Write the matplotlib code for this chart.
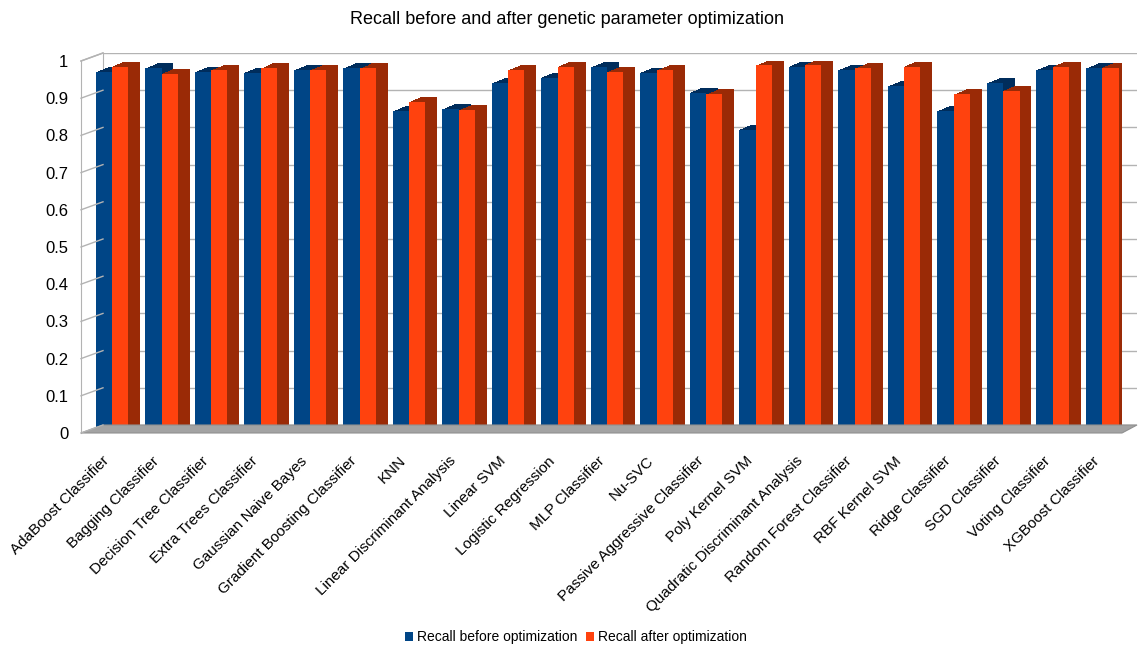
import numpy as np
import matplotlib
matplotlib.use("Agg")
from matplotlib import pyplot as plt
from matplotlib import patheffects as pe
from matplotlib.lines import Line2D
from matplotlib.patches import Polygon, Patch

# datos
modelos = ["AdaBoost Classifier", "Bagging Classifier", "Decision Tree Classifier",
           "Extra Trees Classifier", "Gaussian Naive Bayes", "Gradient Boosting Classifier",
           "KNN", "Linear Discriminant Analysis", "Linear SVM", "Logistic Regression",
           "MLP Classifier", "Nu-SVC", "Passive Aggressive Classifier", "Poly Kernel SVM",
           "Quadratic Discriminant Analysis", "Random Forest Classifier", "RBF Kernel SVM",
           "Ridge Classifier", "SGD Classifier", "Voting Classifier", "XGBoost Classifier"]
recall_antes = [0.970, 0.980, 0.970, 0.968, 0.975, 0.980, 0.865, 0.870, 0.940, 0.955,
                0.983, 0.968, 0.915, 0.815, 0.985, 0.975, 0.932, 0.865, 0.940, 0.975, 0.980]
recall_despues = [0.985, 0.965, 0.975, 0.980, 0.975, 0.980, 0.890, 0.868, 0.975, 0.985,
                  0.970, 0.975, 0.910, 0.988, 0.990, 0.980, 0.985, 0.910, 0.920, 0.985, 0.982]
ticks_y = np.round(np.arange(0, 1.01, 0.1), 1)

W, H = 1138, 647
plt.rcParams['font.family'] = ['Liberation Sans', 'DejaVu Sans']
fig = plt.figure(figsize=(W / 100, H / 100), dpi=100)

azul, azul_osc = "#004586", "#002d5c"
naranja, naranja_osc = "#ff420e", "#9a2a06"
gris = "#b3b3b3"

# pared del fondo
ax_back = fig.add_axes([103 / W, (H - 425) / H, (1137 - 103) / W, 372 / H])
ax_back.set_ylim(0, 1)
ax_back.set_yticks(ticks_y)
ax_back.set_xticks([])
ax_back.tick_params(left=False, labelleft=False)
ax_back.grid(axis="y", color=gris, lw=1)
for s in ["top", "right", "bottom"]:
    ax_back.spines[s].set_visible(False)
ax_back.spines["left"].set_color(gris)

# plano frontal
ax = fig.add_axes([81 / W, (H - 433) / H, 1041 / W, 372 / H])
ax.patch.set_alpha(0)
x = np.arange(len(modelos))
ax.set_xlim(-0.626, 20.40)
ax.set_ylim(0, 1)
for s in ["top", "right", "bottom"]:
    ax.spines[s].set_visible(False)
ax.spines["left"].set_color(gris)

# piso gris
fig.canvas.draw()
f0 = ax.transAxes.transform((0, 0))
f1 = ax.transAxes.transform((1, 0))
b0 = ax_back.transAxes.transform((0, 0))
b1 = ax_back.transAxes.transform((1, 0))
piso = Polygon([f0, f1, b1, b0], closed=True, transform=None, facecolor="#a3a3a3",
               edgecolor="#909090", lw=0.8, zorder=1)
fig.add_artist(piso)

# diagonales de la pared izquierda
for v in ticks_y:
    p = ax.transData.transform((ax.get_xlim()[0], v))
    q = ax_back.transData.transform((ax_back.get_xlim()[0], v))
    fig.add_artist(Line2D([p[0], q[0]], [p[1], q[1]], transform=None, color=gris, lw=1, zorder=1))
p = ax.transAxes.transform((0, 1))
q = ax_back.transAxes.transform((0, 1))
fig.add_artist(Line2D([p[0], q[0]], [p[1], q[1]], transform=None, color=gris, lw=1, zorder=1))


def extrusion(color, dx=8.6, dy=3.6, n=12):
    efs = [pe.SimplePatchShadow(offset=(dx * k / n, dy * k / n), shadow_rgbFace=color, alpha=1.0)
           for k in range(n, 0, -1)]
    return efs + [pe.Normal()]


w = 0.33
b1_ = ax.bar(x - w / 2, recall_antes, w, color=azul, zorder=3)
b2_ = ax.bar(x + w / 2, recall_despues, w, color=naranja, zorder=4)
for r in b1_:
    r.set_path_effects(extrusion(azul_osc))
for r in b2_:
    r.set_path_effects(extrusion(naranja_osc))

ax.set_yticks(ticks_y)
ax.set_yticklabels([("%g" % v) for v in ticks_y], fontsize=12)
ax.tick_params(axis="y", length=0, pad=9)
ax.set_xticks(x - 0.2)
ax.set_xticklabels(modelos, rotation=45, ha="right", va="top", rotation_mode="anchor", fontsize=11)
ax.tick_params(axis="x", length=0, pad=15)

fig.text(567 / W, 1 - 20 / H, "Recall before and after genetic parameter optimization",
         ha="center", va="center", fontsize=13)

handles = [Patch(facecolor=azul, label="Recall before optimization"),
           Patch(facecolor=naranja, label="Recall after optimization")]
leg = fig.legend(handles=handles, loc="center", bbox_to_anchor=(576 / W, 1 - 637 / H),
                 ncol=2, frameon=False, fontsize=10, handlelength=0.6, handleheight=0.6,
                 handletextpad=0.3, columnspacing=0.6)

fig.savefig("out.png", dpi=100)
